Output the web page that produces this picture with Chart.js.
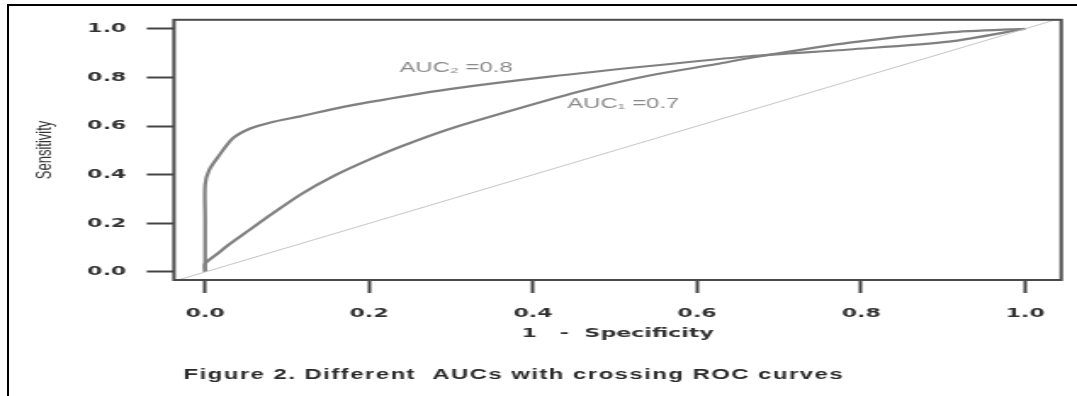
<!DOCTYPE html>
<html>
<head>
<meta charset="utf-8">
<script src="https://cdn.jsdelivr.net/npm/chart.js@4/dist/chart.umd.min.js"></script>
<style>
  html, body { margin: 0; padding: 0; background: #fff; overflow: hidden; }
  #wrap { position: relative; width: 1077px; height: 396px; }
  /* cornice nera attorno alla figura */
  #frame { position: absolute; left: 7px; top: 4px; right: -10px; bottom: -10px;
           border-top: 2px solid #000; border-left: 2px solid #000; pointer-events: none; }
</style>
</head>
<body>
<div id="wrap">
  <!-- il grafico originale e' stirato in orizzontale: 634 px di canvas mostrati su 1077 -->
  <canvas id="roc" width="634" height="396" style="width:1077px;height:396px"></canvas>
  <div id="frame"></div>
</div>
<script>
// valori: curva ROC con AUC = 0.8
const fpr2 = [0, 0, 0, 0.005, 0.015, 0.034, 0.055, 0.08, 0.116, 0.17, 0.238, 0.298, 0.42, 0.542, 0.664, 0.786, 0.907, 1];
const tpr2 = [0, 0.22, 0.36, 0.42, 0.47, 0.55, 0.59, 0.615, 0.64, 0.68, 0.72, 0.752, 0.803, 0.847, 0.887, 0.915, 0.947, 1];
// curva ROC con AUC = 0.7
const fpr1 = [0, 0, 0.015, 0.03, 0.055, 0.08, 0.116, 0.16, 0.2, 0.238, 0.298, 0.38, 0.46, 0.542, 0.624, 0.664, 0.786, 0.907, 1];
const tpr1 = [0, 0.035, 0.075, 0.115, 0.175, 0.235, 0.318, 0.4, 0.462, 0.515, 0.588, 0.67, 0.745, 0.808, 0.855, 0.88, 0.943, 0.985, 1];
// diagonale di riferimento (y = x), tagliata dall'area del grafico
const diagX = [-0.1, 1.1];
const diagY = [-0.1, 1.1];

const xTicks = [0, 0.2, 0.4, 0.6, 0.8, 1.0];
const yTicks = [0, 0.2, 0.4, 0.6, 0.8, 1.0];

// etichette dentro il grafico: testo e posizione in unita' dei dati
const aucLabels = ["AUC\u2082 =0.8", "AUC\u2081 =0.7"];
const aucLabelX = [0.306, 0.51];
const aucLabelY = [0.84, 0.69];

const xTitle = "1   -  Specificity";
const yTitle = "Sensitivity";
const caption = "Figure 2. Different  AUCs with crossing ROC curves";

// unisce due array in punti {x, y}
function toPoints(xs, ys) {
  return xs.map((x, i) => ({ x: x, y: ys[i] }));
}

// disegna il riquadro intorno all'area del grafico
const boxPlugin = {
  id: "plotBox",
  afterDraw(chart) {
    const { ctx, chartArea } = chart;
    ctx.save();
    ctx.strokeStyle = "#4a4a4a";
    ctx.lineWidth = 2;
    ctx.strokeRect(chartArea.left, chartArea.top, chartArea.right - chartArea.left, chartArea.bottom - chartArea.top);
    ctx.restore();
  },
};

// scrive le etichette AUC e la didascalia della figura
const textPlugin = {
  id: "testi",
  afterDraw(chart) {
    const ctx = chart.ctx;
    const xs = chart.scales.x;
    const ys = chart.scales.y;
    ctx.save();
    ctx.fillStyle = "#8a8a8a";
    ctx.font = "14px 'Liberation Sans', Arial, sans-serif";
    ctx.textAlign = "center";
    ctx.textBaseline = "middle";
    aucLabels.forEach((txt, i) => {
      ctx.fillText(txt, xs.getPixelForValue(aucLabelX[i]), ys.getPixelForValue(aucLabelY[i]));
    });
    // didascalia: un po' di spaziatura tra le lettere come nell'originale
    ctx.fillStyle = "#2a2a2a";
    ctx.font = "bold 14px 'Liberation Sans', Arial, sans-serif";
    ctx.textAlign = "left";
    ctx.letterSpacing = "0.9px";
    ctx.fillText(caption, 108, 375);
    ctx.restore();
  },
};

const tickFont = { family: "'DejaVu Sans', sans-serif", weight: "bold", size: 13 };

new Chart(document.getElementById("roc").getContext("2d"), {
  type: "scatter",
  data: {
    datasets: [
      {
        label: "diagonale",
        data: toPoints(diagX, diagY),
        showLine: true,
        borderColor: "#c4c4c4",
        borderWidth: 1,
        pointRadius: 0,
      },
      {
        label: "AUC1",
        data: toPoints(fpr1, tpr1),
        showLine: true,
        borderColor: "#808080",
        borderWidth: 2.2,
        pointRadius: 0,
        tension: 0.25,
      },
      {
        label: "AUC2",
        data: toPoints(fpr2, tpr2),
        showLine: true,
        borderColor: "#808080",
        borderWidth: 2.2,
        pointRadius: 0,
        tension: 0.25,
      },
    ],
  },
  options: {
    responsive: false,
    animation: false,
    devicePixelRatio: 1,
    layout: { padding: { left: 0, top: 17, right: 9.3, bottom: 0 } },
    plugins: { legend: { display: false }, tooltip: { enabled: false } },
    scales: {
      x: {
        type: "linear",
        min: -0.038,
        max: 1.044,
        afterBuildTicks: (scale) => { scale.ticks = xTicks.map((v) => ({ value: v })); },
        afterFit: (scale) => { scale.height = 116; },
        grid: { drawOnChartArea: false, tickLength: 13, tickColor: "#444", tickWidth: 2 },
        border: { display: false },
        ticks: { padding: 13, color: "#333", font: tickFont, maxRotation: 0, callback: (v) => v.toFixed(1) },
        title: {
          display: true,
          text: xTitle,
          color: "#333",
          font: { family: "'DejaVu Sans', sans-serif", weight: "bold", size: 13 },
          padding: { top: 0, bottom: 55 },
        },
      },
      y: {
        type: "linear",
        min: -0.033,
        max: 1.037,
        afterBuildTicks: (scale) => { scale.ticks = yTicks.map((v) => ({ value: v })); },
        afterFit: (scale) => { scale.width = 102.4; },
        grid: { drawOnChartArea: false, tickLength: 16, tickColor: "#444", tickWidth: 2 },
        border: { display: false },
        ticks: { padding: 12, color: "#333", font: tickFont, callback: (v) => v.toFixed(1) },
        title: {
          display: true,
          text: yTitle,
          color: "#333",
          font: { family: "'Liberation Sans', Arial, sans-serif", size: 13 },
          padding: { top: 19, bottom: 0 },
        },
      },
    },
  },
  plugins: [boxPlugin, textPlugin],
});
</script>
</body>
</html>
